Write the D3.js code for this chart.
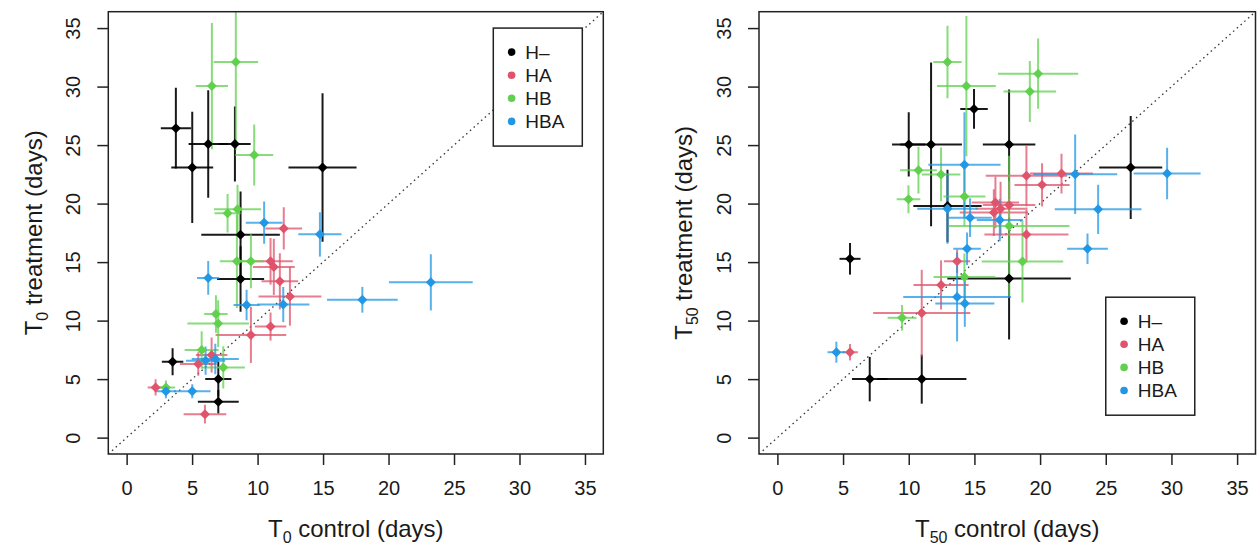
<!DOCTYPE html>
<html><head><meta charset="utf-8">
<script src="https://cdn.jsdelivr.net/npm/d3@7"></script>
<style>
html,body{margin:0;padding:0;background:#fff;}
svg text{font-family:"Liberation Sans",Arial,sans-serif;fill:#1a1a1a;}
</style></head>
<body><svg id="c" width="1257" height="545"></svg>
<script>
// ---- data (value, error half-width) ----
const groups = ["H\u2013","HA","HB","HBA"];
const groupColors = ["#000000","#DF536B","#61D04F","#2297E6"];
const tickValues = [0,5,10,15,20,25,30,35];

// T0 panel: [control, control err, treatment, treatment err]
const t0_Hminus = [[3.76,1.15,26.44,3.45],[5.01,1.6,23.09,4.75],[6.23,1.5,25.09,4.6],[8.27,1.2,25.09,3.2],[14.96,2.6,23.09,6.35],[8.7,3.0,17.34,3.7],[8.7,1.8,13.56,2.8],[3.51,0.82,6.49,1.15],[7.0,1.0,5.0,1.5],[7.0,1.56,3.06,1.0]];
const t0_HA = [[12.0,1.4,17.88,1.8],[10.99,1.7,15.07,2.0],[11.24,1.6,14.59,2.4],[11.7,1.4,13.36,2.4],[12.47,2.4,12.07,2.5],[10.99,1.2,9.49,1.2],[9.49,2.7,8.78,2.4],[6.49,1.2,7.06,1.5],[5.47,1.4,6.29,1.0],[2.21,0.6,4.29,0.7],[5.98,1.63,2.0,0.8]];
const t0_HB = [[8.34,1.7,32.1,7.5],[6.51,1.23,30.04,5.4],[9.74,1.45,24.15,2.6],[8.47,1.8,19.51,2.1],[7.71,1.0,19.17,1.65],[8.42,1.3,15.07,4.0],[9.49,1.0,15.07,2.3],[6.82,0.9,10.56,1.6],[6.99,2.35,9.75,2.0],[5.73,1.3,7.49,1.6],[7.38,1.65,6.0,1.8],[3.0,0.7,4.29,0.6]];
const t0_HBA = [[10.5,1.4,18.37,1.8],[14.76,1.65,17.37,1.9],[6.23,0.85,13.65,1.45],[9.16,1.0,11.33,1.3],[11.96,2.0,11.38,1.5],[18.0,2.7,11.78,1.1],[23.23,3.2,13.27,2.4],[6.03,1.5,6.58,1.2],[6.77,1.8,6.72,1.3],[3.0,0.77,3.97,0.6],[5.01,1.4,3.97,0.6]];

// T50 panel
const t50_Hminus = [[10.0,1.27,25.06,2.75],[11.7,2.35,25.06,7.0],[14.97,1.05,28.09,1.7],[17.64,2.0,25.06,4.7],[26.9,2.4,23.09,4.4],[12.95,2.6,19.8,3.1],[17.64,4.7,13.59,5.2],[5.53,0.8,15.28,1.35],[7.03,1.35,5.0,1.9],[10.99,3.4,5.0,2.1]];
const t50_HA = [[18.96,3.1,22.37,2.6],[21.63,2.4,22.57,1.7],[20.15,2.1,21.6,1.85],[16.6,1.8,20.09,2.2],[17.64,2.0,19.88,2.0],[16.99,1.9,19.57,2.3],[16.48,2.6,19.23,2.0],[18.96,3.2,17.36,2.3],[13.68,1.0,15.07,1.0],[12.46,2.1,13.05,2.1],[10.99,3.7,10.64,3.7],[5.53,0.6,7.3,0.7]];
const t50_HB = [[12.95,1.07,32.1,3.1],[14.39,2.24,30.04,6.0],[19.85,3.05,31.1,3.0],[19.22,2.0,29.58,2.6],[10.74,1.4,22.86,2.0],[12.46,1.47,22.49,2.3],[9.98,0.9,20.37,1.2],[14.24,1.6,20.6,2.5],[17.64,4.6,18.08,6.0],[18.66,3.1,15.05,3.5],[14.24,2.35,13.73,2.0],[9.49,1.1,10.24,1.1]];
const t50_HBA = [[14.24,2.75,23.31,4.5],[12.95,2.3,19.57,3.0],[14.67,1.65,18.8,1.65],[16.93,1.75,18.59,1.8],[22.67,3.2,22.51,3.4],[29.67,2.55,22.57,2.2],[24.42,3.3,19.51,2.1],[23.61,1.55,16.14,1.3],[14.44,1.05,16.14,1.4],[13.68,4.1,12.02,3.8],[14.27,2.25,11.47,2.0],[4.49,0.67,7.3,0.9]];

const panels = [
  {sub:"0", series:[t0_Hminus,t0_HA,t0_HB,t0_HBA], x0:108.3, x1:603.3, legend:[28,35]},
  {sub:"50", series:[t50_Hminus,t50_HA,t50_HB,t50_HBA], x0:759, x1:1255.5, legend:[25,12]}
];
const y0 = 11.7, y1 = 454;
const domain = [-1.4, 36.4];
const svg = d3.select("#c");

panels.forEach((p, pi) => {
  const x = d3.scaleLinear().domain(domain).range([p.x0, p.x1]);
  const y = d3.scaleLinear().domain(domain).range([y1, y0]);
  const g = svg.append("g");
  const clipId = "clip" + pi;
  g.append("clipPath").attr("id", clipId).append("rect")
    .attr("x", p.x0).attr("y", y0).attr("width", p.x1 - p.x0).attr("height", y1 - y0);
  const plot = g.append("g").attr("clip-path", `url(#${clipId})`);

  // 1:1 dotted line
  plot.append("line")
    .attr("x1", x(domain[0])).attr("y1", y(domain[0]))
    .attr("x2", x(domain[1])).attr("y2", y(domain[1]))
    .attr("stroke", "#333").attr("stroke-width", 1.3).attr("stroke-dasharray", "1.5,3.5");

  p.series.forEach((data, si) => {
    const col = groupColors[si];
    const eg = plot.append("g").attr("stroke", col).attr("stroke-width", 2)
      .attr("stroke-opacity", si === 0 ? 0.9 : 0.75);
    data.forEach(d => {
      eg.append("line").attr("x1", x(d[0]-d[1])).attr("x2", x(d[0]+d[1]))
        .attr("y1", y(d[2])).attr("y2", y(d[2]));
      eg.append("line").attr("x1", x(d[0])).attr("x2", x(d[0]))
        .attr("y1", y(d[2]-d[3])).attr("y2", y(d[2]+d[3]));
    });
  });
  p.series.forEach((data, si) => {
    const col = groupColors[si];
    plot.append("g").selectAll("path").data(data).join("path")
      .attr("d", d3.symbol().type(d3.symbolSquare).size(50))
      .attr("transform", d => `translate(${x(d[0])},${y(d[2])}) rotate(45)`)
      .attr("fill", col);
  });

  // box
  g.append("rect").attr("x", p.x0).attr("y", y0).attr("width", p.x1 - p.x0).attr("height", y1 - y0)
    .attr("fill", "none").attr("stroke", "#222").attr("stroke-width", 1.5);

  // axes
  const xa = g.append("g").attr("transform", `translate(0,${y1})`)
    .call(d3.axisBottom(x).tickValues(tickValues).tickSize(11).tickPadding(16).tickSizeOuter(0));
  const ya = g.append("g").attr("transform", `translate(${p.x0},0)`)
    .call(d3.axisLeft(y).tickValues(tickValues).tickSize(11).tickPadding(0).tickSizeOuter(0));
  [xa, ya].forEach(a => {
    a.select(".domain").remove();
    a.selectAll(".tick line").attr("stroke", "#222").attr("stroke-width", 1.5);
    a.selectAll("text").attr("font-size", 20).attr("fill", "#1a1a1a")
      .attr("font-family", "'Liberation Sans',Arial,sans-serif");
  });
  ya.selectAll(".tick text")
    .attr("x", null).attr("dy", null)
    .attr("text-anchor", "middle")
    .attr("transform", "translate(-28.3,0) rotate(-90)");

  // axis titles
  const cx = (p.x0 + p.x1) / 2;
  const xt = g.append("text").attr("x", cx).attr("y", 537).attr("text-anchor", "middle").attr("font-size", 24);
  xt.append("tspan").text("T");
  xt.append("tspan").text(p.sub).attr("font-size", 16).attr("dy", 6);
  xt.append("tspan").text(" control (days)").attr("dy", -6);

  const yt = g.append("text").attr("transform", `translate(${p.x0 - 66.6},${(y0 + y1) / 2}) rotate(-90)`)
    .attr("text-anchor", "middle").attr("font-size", 24);
  yt.append("tspan").text("T");
  yt.append("tspan").text(p.sub).attr("font-size", 16).attr("dy", 6);
  yt.append("tspan").text(" treatment (days)").attr("dy", -6);

  // legend
  const lx = x(p.legend[0]), ly = y(p.legend[1]);
  const lg = g.append("g").attr("transform", `translate(${lx},${ly})`);
  lg.append("rect").attr("width", 89).attr("height", 118).attr("fill", "#fff")
    .attr("stroke", "#222").attr("stroke-width", 1.5);
  groups.forEach((name, i) => {
    lg.append("circle").attr("cx", 18.3).attr("cy", 24 + i * 23.1).attr("r", 3.8).attr("fill", groupColors[i]);
    lg.append("text").attr("x", 32).attr("y", 24 + i * 23.1).attr("dy", "0.36em")
      .attr("font-size", 19).text(name);
  });
});
</script></body></html>
